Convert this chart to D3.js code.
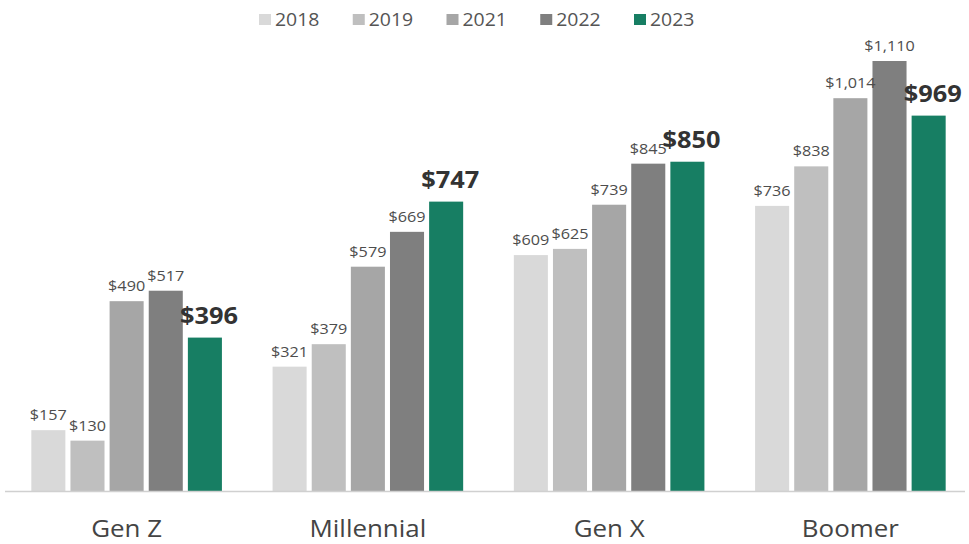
<!DOCTYPE html>
<html>
<head>
<meta charset="utf-8">
<script src="https://cdn.jsdelivr.net/npm/d3@7"></script>
<style>
  html, body { margin: 0; padding: 0; background: #fff; }
  svg { display: block; font-family: "Open Sans", sans-serif; }
</style>
</head>
<body>
<svg id="chart" width="969" height="544"></svg>
<script>
// Average spend by generation and year
const generations = ["Gen Z", "Millennial", "Gen X", "Boomer"];
const years = ["2018", "2019", "2021", "2022", "2023"];
const values2018 = [157, 321, 609, 736];
const values2019 = [130, 379, 625, 838];
const values2021 = [490, 579, 739, 1014];
const values2022 = [517, 669, 845, 1110];
const values2023 = [396, 747, 850, 969];
const seriesValues = [values2018, values2019, values2021, values2022, values2023];
const yearColors = ["#d9d9d9", "#bfbfbf", "#a6a6a6", "#7f7f7f", "#177e63"];

const svg = d3.select("#chart");
const baseY = 491, topY = 61;
const textWiden = 1.08; // horizontal stretch applied to all text

const x0 = d3.scaleBand().domain(generations).range([6, 971])
  .paddingInner(0.21).paddingOuter(0.105);
const x1 = d3.scaleBand().domain(years).range([0, x0.bandwidth()])
  .paddingInner(0.13).paddingOuter(0);
const y = d3.scaleLinear().domain([0, 1110]).range([baseY, topY]);
const color = d3.scaleOrdinal().domain(years).range(yearColors);

const fmt = d3.format("$,");

const rows = [];
generations.forEach((g, gi) => {
  years.forEach((yr, yi) => {
    rows.push({ gen: g, year: yr, value: seriesValues[yi][gi], latest: yi === years.length - 1 });
  });
});

// bars
svg.append("g").selectAll("rect").data(rows).join("rect")
  .attr("x", d => x0(d.gen) + x1(d.year))
  .attr("y", d => y(d.value))
  .attr("width", x1.bandwidth())
  .attr("height", d => y(0) - y(d.value))
  .attr("fill", d => color(d.year));

// value labels
svg.append("g").selectAll("g").data(rows).join("g")
  .attr("transform", d => {
    const cx = x0(d.gen) + x1(d.year) + x1.bandwidth() / 2 + (d.latest ? 4 : 0);
    const cy = y(d.value) - (d.latest ? 14 : 10);
    return `translate(${cx},${cy}) scale(${textWiden},1)`;
  })
  .append("text")
  .attr("text-anchor", "middle")
  .attr("font-size", d => d.latest ? 23.5 : 15)
  .attr("font-weight", d => d.latest ? 700 : 400)
  .attr("fill", d => d.latest ? "#333333" : "#4d4d4d")
  .text(d => fmt(d.value));

// baseline axis
const xAxis = d3.axisBottom(x0).tickSize(0).tickFormat("");
const axisG = svg.append("g").attr("transform", `translate(0,${baseY})`).call(xAxis);
axisG.select(".domain").attr("d", "M5,0.5H965").attr("stroke", "#d0d0d0").attr("stroke-width", 1.5);
axisG.selectAll(".tick").append("g")
  .attr("transform", `translate(0,46) scale(${textWiden},1)`)
  .append("text")
  .attr("text-anchor", "middle")
  .attr("font-size", 24)
  .attr("font-family", "'Open Sans', sans-serif")
  .attr("fill", "#444444")
  .text(d => d);

// legend
const legendX = d3.scalePoint().domain(years).range([259, 634]);
const legend = svg.append("g").selectAll("g").data(years).join("g")
  .attr("transform", d => `translate(${legendX(d)},0)`);
legend.append("rect")
  .attr("x", 0).attr("y", 14).attr("width", 12).attr("height", 11)
  .attr("fill", d => color(d));
legend.append("g")
  .attr("transform", `translate(16,26) scale(${textWiden},1)`)
  .append("text")
  .attr("font-size", 18)
  .attr("fill", "#555555")
  .text(d => d);
</script>
</body>
</html>
